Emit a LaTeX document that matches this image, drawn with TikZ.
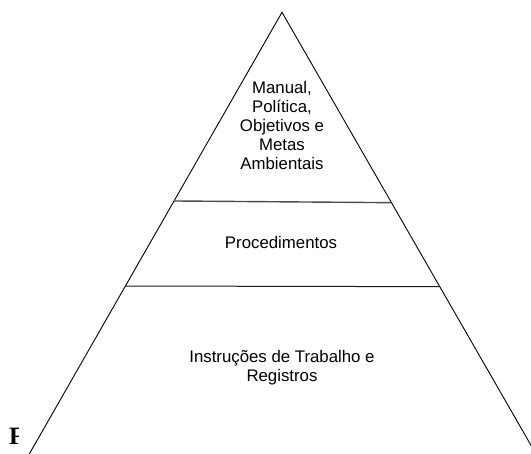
\documentclass[tikz,border=0pt]{standalone}
\usepackage{fontspec}
\setmainfont{Liberation Sans}
\newfontfamily\timesfont{Liberation Serif}
\usetikzlibrary{calc}
\begin{document}
\begin{tikzpicture}[x=1pt,y=1pt,
  edge/.style={line width=0.9pt, black},
  topdiv/.style={line width=1.4pt, black!70},
  div/.style={line width=1pt, black!90},
  lbl/.style={font=\fontsize{16.8}{19}\selectfont, align=center, inner sep=0pt, anchor=base},
  figlbl/.style={font=\timesfont\bfseries\fontsize{25}{25}\selectfont, inner sep=0pt, anchor=base west}]
\useasboundingbox (0,0) rectangle (531,454);
\begin{scope}
  \clip (0,0) rectangle (531,454);
  \coordinate (apex) at (282,441.7);
  \coordinate (bl) at (29.3,0);
  \coordinate (br) at (536,0);
  \draw[edge] (bl) -- (apex) -- (br);
  \coordinate (d1l) at ($(apex)!0.4272!(bl)$);
  \coordinate (d1r) at ($(apex)!0.4310!(br)$);
  \coordinate (d2l) at ($(apex)!0.6197!(bl)$);
  \coordinate (d2r) at ($(apex)!0.6212!(br)$);
  \draw[topdiv] (d1l) -- (d1r);
  \draw[div] (d2l) -- (d2r);
\end{scope}
\node[lbl] (top) at (282,284) {Manual,\\Política,\\Objetivos e\\Metas\\Ambientais};
\node[lbl] (mid) at (281,205.7) {Procedimentos};
\node[lbl] (bot) at (282,72.3) {Instruções de Trabalho e\\Registros};
\begin{scope}
  \clip (0,0) rectangle (18.5,454);
  \node[figlbl] (fig) at (9,9) {F};
\end{scope}
\end{tikzpicture}
\end{document}
